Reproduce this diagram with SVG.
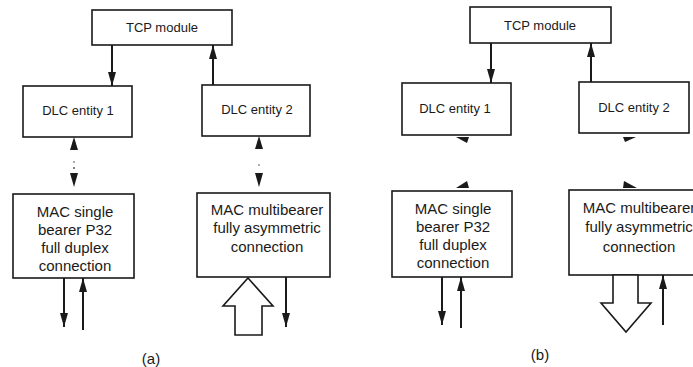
<svg xmlns="http://www.w3.org/2000/svg" width="693" height="367" viewBox="0 0 693 367">
<defs>
<marker id="ah" viewBox="0 0 14 8" refX="14" refY="4" markerWidth="14" markerHeight="8" markerUnits="userSpaceOnUse" orient="auto">
<path d="M0,0 L14,4 L0,8 Z" fill="#1a1a1a"/>
</marker>
<style>
.box{fill:#fff;stroke:#1a1a1a;stroke-width:1.6}
.t{font-family:"Liberation Sans",Arial,sans-serif;fill:#1a1a1a;text-anchor:middle}
.s{font-size:13px}
.m{font-size:15px}
.ln{stroke:#1a1a1a;stroke-width:2;fill:none}
.big{fill:#fff;stroke:#1a1a1a;stroke-width:1.6}
.hd{fill:#1a1a1a}
</style>
</defs>
<rect width="693" height="367" fill="#fff"/>

<!-- Panel (a) -->
<g id="a-tcp"><rect class="box" x="92" y="10" width="140" height="35"/><text class="t s" x="162" y="32">TCP module</text></g>
<g id="a-dlc1"><rect class="box" x="23" y="86" width="109" height="51"/><text class="t s" x="78" y="115">DLC entity 1</text></g>
<g id="a-dlc2"><rect class="box" x="202" y="85" width="108" height="51"/><text class="t s" x="257" y="114">DLC entity 2</text></g>
<g id="a-mac1"><rect class="box" x="13" y="194" width="121" height="84"/>
<text class="t m" x="75" y="217">MAC single</text><text class="t m" x="75" y="235">bearer P32</text><text class="t m" x="75" y="253">full duplex</text><text class="t m" x="75" y="271">connection</text></g>
<g id="a-mac2"><rect class="box" x="197" y="193" width="133" height="84"/>
<text class="t m" x="267" y="215">MAC multibearer</text><text class="t m" x="267" y="233">fully asymmetric</text><text class="t m" x="267" y="252">connection</text></g>

<!-- Panel (b) -->
<g id="b-tcp"><rect class="box" x="470" y="7" width="141" height="36"/><text class="t s" x="540" y="30">TCP module</text></g>
<g id="b-dlc1"><rect class="box" x="402" y="83" width="109" height="52"/><text class="t s" x="455" y="113">DLC entity 1</text></g>
<g id="b-dlc2"><rect class="box" x="579" y="82" width="110" height="51"/><text class="t s" x="634" y="112">DLC entity 2</text></g>
<g id="b-mac1"><rect class="box" x="392" y="191" width="120" height="86"/>
<text class="t m" x="453" y="214">MAC single</text><text class="t m" x="453" y="232">bearer P32</text><text class="t m" x="453" y="250">full duplex</text><text class="t m" x="453" y="268">connection</text></g>
<g id="b-mac2"><rect class="box" x="569" y="190" width="142" height="85"/>
<text class="t m" x="639" y="213">MAC multibearer</text><text class="t m" x="639" y="232">fully asymmetric</text><text class="t m" x="639" y="252">connection</text></g>

<g id="labels">
<text class="t m" x="151" y="364">(a)</text>
<text class="t m" x="540" y="360">(b)</text>
</g>

<g id="connectors">
<!-- (a) -->
<line class="ln" x1="112" y1="45" x2="112" y2="86" marker-end="url(#ah)"/>
<line class="ln" x1="213" y1="85" x2="213" y2="45" marker-end="url(#ah)"/>
<polygon class="hd" points="74,137 78,150 70,150"/>
<circle cx="74" cy="162" r="0.8" fill="#444"/><circle cx="74" cy="168" r="0.9" fill="#444"/>
<polygon class="hd" points="70,173 78,173 74,187"/>
<polygon class="hd" points="259,136 263,149 255,149"/>
<circle cx="259" cy="165" r="0.8" fill="#444"/>
<polygon class="hd" points="255,173 263,173 259,187"/>
<line class="ln" x1="64" y1="278" x2="64" y2="327" marker-end="url(#ah)"/>
<line class="ln" x1="83" y1="330" x2="83" y2="278" marker-end="url(#ah)"/>
<polygon class="big" points="248,278 273,306 262,306 262,335 235,335 235,306 223,306"/>
<line class="ln" x1="286" y1="277" x2="286" y2="327" marker-end="url(#ah)"/>
<!-- (b) -->
<line class="ln" x1="491" y1="43" x2="491" y2="83" marker-end="url(#ah)"/>
<line class="ln" x1="591" y1="82" x2="591" y2="43" marker-end="url(#ah)"/>
<polygon class="hd" points="456,137 469,137 467,143"/>
<polygon class="hd" points="623,137 636,137 625,142"/>
<polygon class="hd" points="456,188 469,188 467,181"/>
<polygon class="hd" points="623,188 637,188 624,181"/>
<line class="ln" x1="442" y1="277" x2="442" y2="325" marker-end="url(#ah)"/>
<line class="ln" x1="461" y1="328" x2="461" y2="277" marker-end="url(#ah)"/>
<polygon class="big" points="613,275 638,275 638,303 651,303 626,332 601,303 613,303"/>
<line class="ln" x1="663" y1="325" x2="663" y2="275" marker-end="url(#ah)"/>
</g>
</svg>
